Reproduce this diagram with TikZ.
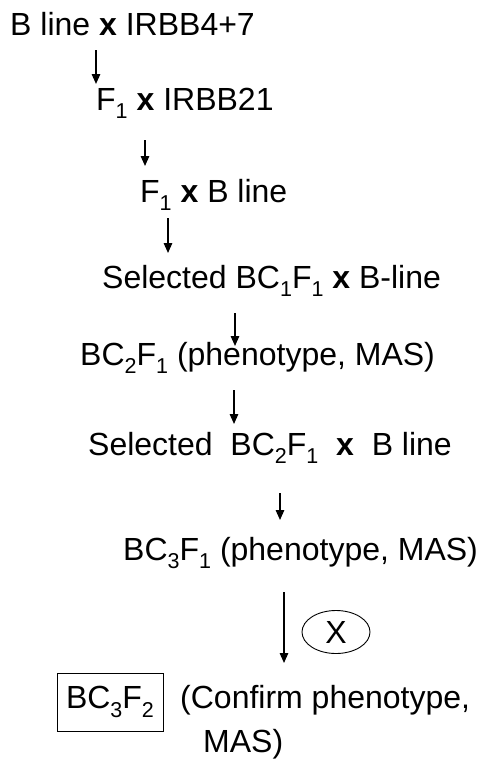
\documentclass[tikz,border=0pt]{standalone}
\usepackage{fontspec}
\setmainfont{Liberation Sans}
\usetikzlibrary{arrows.meta,shapes.geometric}
\newcommand\dnsub[1]{\raisebox{-0.27em}{\fontsize{21.5}{23}\selectfont #1}}
\tikzset{
  lbl/.style={anchor=base west,inner sep=0pt,font=\fontsize{32}{36}\selectfont},
  flow/.style={line width=1.5pt,-{Triangle[length=10pt,width=8.5pt]}},
}
\begin{document}
\begin{tikzpicture}[x=1pt,y=-1pt]
\useasboundingbox (0,0) rectangle (479,761);
\node[lbl] (t1) at (10,35) {B line \textbf{x} IRBB4+7};
\node[lbl] (t2) at (96,110) {F\dnsub{1} \textbf{x} IRBB21};
\node[lbl] (t3) at (140,202) {F\dnsub{1} \textbf{x} B line};
\node[lbl] (t4) at (102,288) {Selected BC\dnsub{1}F\dnsub{1} \textbf{x} B-line};
\node[lbl] (t5) at (80,365) {BC\dnsub{2}F\dnsub{1} (phenotype, MAS)};
\node[lbl] (t6) at (88,455) {Selected\ \ BC\dnsub{2}F\dnsub{1}\ \ \textbf{x}\ \ B line};
\node[lbl] (t7) at (123,560) {BC\dnsub{3}F\dnsub{1} (phenotype, MAS)};
\node[draw,line width=0.9pt,minimum width=106pt,minimum height=58pt,inner sep=0pt,
      font=\fontsize{32}{36}\selectfont] (t8) at (110,702) {BC\dnsub{3}F\dnsub{2}};
\node[lbl] (t9) at (180,708) {(Confirm phenotype,};
\node[lbl] (t10) at (203,752) {MAS)};
\node[draw,ellipse,line width=0.9pt,minimum width=68pt,minimum height=43pt,inner sep=0pt,
      font=\fontsize{32}{36}\selectfont] (self) at (336,632) {X};
\coordinate (a1s) at (96,50);  \coordinate (a1e) at (96,84);
\coordinate (a2s) at (145,140); \coordinate (a2e) at (145,166);
\coordinate (a3s) at (168,218); \coordinate (a3e) at (168,253);
\coordinate (a4s) at (235,313); \coordinate (a4e) at (235,346);
\coordinate (a5s) at (234,390); \coordinate (a5e) at (234,424);
\coordinate (a6s) at (280,493); \coordinate (a6e) at (280,520);
\coordinate (a7s) at (284,592); \coordinate (a7e) at (284,663);
\foreach \i in {1,...,7} \draw[flow] (a\i s) -- (a\i e);
\end{tikzpicture}
\end{document}
